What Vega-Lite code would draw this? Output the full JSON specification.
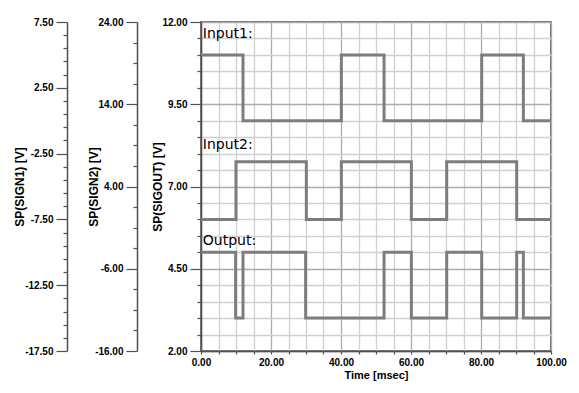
{
  "$schema": "https://vega.github.io/schema/vega-lite/v6.json",
  "width": 350,
  "height": 329,
  "autosize": {"type": "none"},
  "padding": {"left": 201, "top": 22, "right": 28, "bottom": 42},
  "background": "white",
  "config": {
    "view": {"stroke": "#404040", "strokeWidth": 1.5},
    "axis": {
      "labelFont": "Liberation Sans", "labelFontWeight": "bold", "labelFontSize": 10, "labelColor": "black",
      "titleFont": "Liberation Sans", "titleFontWeight": "bold", "titleFontSize": 11, "titleColor": "black",
      "domainColor": "#505050", "tickColor": "#505050", "domainWidth": 1.5, "tickWidth": 1.2,
      "gridOpacity": 1
    }
  },
  "datasets": {
    "input1": [
      {"t": 0, "v": 5}, {"t": 12, "v": 0}, {"t": 40.1, "v": 5}, {"t": 52.3, "v": 0},
      {"t": 80.2, "v": 5}, {"t": 92.1, "v": 0}, {"t": 100, "v": 0}
    ],
    "input2": [
      {"t": 0, "v": 0}, {"t": 10, "v": 7}, {"t": 30.1, "v": 0}, {"t": 40.1, "v": 7},
      {"t": 60.1, "v": 0}, {"t": 70.2, "v": 7}, {"t": 90.2, "v": 0}, {"t": 100, "v": 0}
    ],
    "output": [
      {"t": 0, "v": 5}, {"t": 9.9, "v": 3}, {"t": 12, "v": 5}, {"t": 29.9, "v": 3},
      {"t": 52.3, "v": 5}, {"t": 60.1, "v": 3}, {"t": 70.2, "v": 5}, {"t": 80.2, "v": 3},
      {"t": 90.2, "v": 5}, {"t": 92.1, "v": 3}, {"t": 100, "v": 3}
    ],
    "labels": [
      {"t": 0.5, "v": 11.5, "label": "Input1:"},
      {"t": 0.5, "v": 8.14, "label": "Input2:"},
      {"t": 0.5, "v": 5.22, "label": "Output:"}
    ]
  },
  "layer": [
    {
      "data": {"name": "input1"},
      "mark": {"type": "line", "interpolate": "step-after", "color": "#7d7d7d", "strokeWidth": 3},
      "encoding": {
        "x": {"field": "t", "type": "quantitative", "scale": {"domain": [0, 100], "nice": false},
          "axis": {
            "title": "Time [msec]", "tickCount": 500,
            "values": [0,5,10,15,20,25,30,35,40,45,50,55,60,65,70,75,80,85,90,95,100],
            "labelExpr": "datum.value % 20 === 0 ? format(datum.value, '.2f') : ''",
            "tickSize": 3,
            "labelPadding": 3, "labelFlush": false, "labelOverlap": false, "titlePadding": 2,
            "grid": true,
            "gridColor": {"condition": {"test": "datum.value % 20 === 0", "value": "#acacac"}, "value": "#d0d0d0"},
            "gridWidth": 1.3
          }},
        "y": {"field": "v", "type": "quantitative", "scale": {"domain": [-17.5, 7.5], "nice": false, "zero": false},
          "axis": {
            "orient": "left", "offset": 134, "title": "SP(SIGN1) [V]", "grid": false, "tickCount": 500,
            "values": [-17.5,-16.5,-15.5,-14.5,-13.5,-12.5,-11.5,-10.5,-9.5,-8.5,-7.5,-6.5,-5.5,-4.5,-3.5,-2.5,-1.5,-0.5,0.5,1.5,2.5,3.5,4.5,5.5,6.5,7.5],
            "labelExpr": "(datum.value + 17.5) % 5 === 0 ? replace(format(datum.value, '.2f'), '\u2212', '-') : ''",
            "tickSize": {"condition": {"test": "(datum.value + 17.5) % 5 === 0", "value": 11}, "value": 4},
            "labelPadding": 3, "labelOverlap": false, "labelFlush": false,
            "titleFontSize": 12,
            "titleX": -48, "titleY": 164.5, "titleBaseline": "middle", "titleAlign": "center"
          }}
      }
    },
    {
      "data": {"name": "input2"},
      "mark": {"type": "line", "interpolate": "step-after", "color": "#7d7d7d", "strokeWidth": 3},
      "encoding": {
        "x": {"field": "t", "type": "quantitative"},
        "y": {"field": "v", "type": "quantitative", "scale": {"domain": [-16, 24], "nice": false, "zero": false},
          "axis": {
            "orient": "left", "offset": 64, "title": "SP(SIGN2) [V]", "grid": false, "tickCount": 500,
            "values": [-16,-13.5,-11,-8.5,-6,-3.5,-1,1.5,4,6.5,9,11.5,14,16.5,19,21.5,24],
            "labelExpr": "(datum.value + 16) % 10 === 0 ? replace(format(datum.value, '.2f'), '\u2212', '-') : ''",
            "tickSize": {"condition": {"test": "(datum.value + 16) % 10 === 0", "value": 11}, "value": 4},
            "labelPadding": 3, "labelOverlap": false, "labelFlush": false,
            "titleFontSize": 12,
            "titleX": -43.5, "titleY": 164.5, "titleBaseline": "middle", "titleAlign": "center"
          }}
      }
    },
    {
      "layer": [
        {
          "data": {"name": "output"},
          "mark": {"type": "line", "interpolate": "step-after", "color": "#7d7d7d", "strokeWidth": 3},
          "encoding": {
            "x": {"field": "t", "type": "quantitative"},
            "y": {"field": "v", "type": "quantitative", "scale": {"domain": [2, 12], "nice": false, "zero": false},
              "axis": {
                "orient": "left", "offset": 0, "title": "SP(SIGOUT) [V]", "grid": true, "tickCount": 500,
                "values": [2,2.5,3,3.5,4,4.5,5,5.5,6,6.5,7,7.5,8,8.5,9,9.5,10,10.5,11,11.5,12],
                "labelExpr": "(datum.value - 2) % 2.5 === 0 ? format(datum.value, '.2f') : ''",
                "tickSize": {"condition": {"test": "(datum.value - 2) % 2.5 === 0", "value": 11}, "value": 4},
                "gridColor": {"condition": {"test": "(datum.value - 2) % 2.5 === 0", "value": "#acacac"}, "value": "#d0d0d0"},
                "gridWidth": 1.3,
                "labelPadding": 3, "labelOverlap": false, "labelFlush": false,
                "titleFontSize": 12,
                "titleX": -43.5, "titleY": 164.5, "titleBaseline": "middle", "titleAlign": "center"
              }}
          }
        },
        {
          "data": {"name": "labels"},
          "mark": {"type": "text", "font": "DejaVu Sans", "fontSize": 14, "align": "left", "baseline": "alphabetic", "color": "black"},
          "encoding": {
            "x": {"field": "t", "type": "quantitative"},
            "y": {"field": "v", "type": "quantitative"},
            "text": {"field": "label"}
          }
        }
      ]
    }
  ],
  "resolve": {"scale": {"y": "independent"}}
}
